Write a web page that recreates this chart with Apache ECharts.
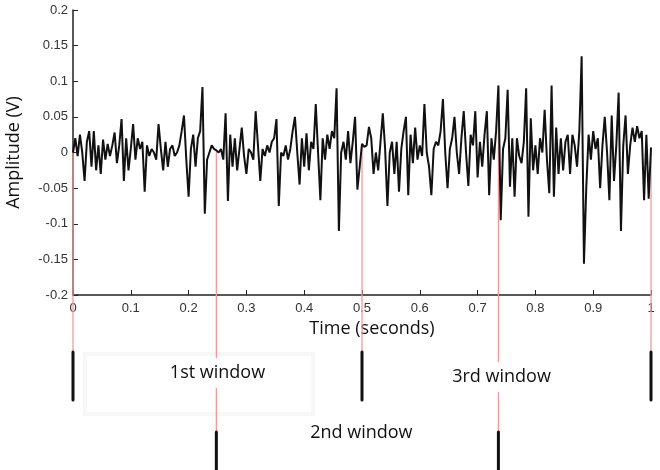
<!DOCTYPE html>
<html>
<head>
<meta charset="utf-8">
<script src="https://cdn.jsdelivr.net/npm/echarts@6/dist/echarts.min.js"></script>
<style>
  html, body { margin: 0; padding: 0; background: #fff; }
  #main { width: 660px; height: 470px; }
</style>
</head>
<body>
<div id="main"></div>
<script>
// signal, one sample every 4 ms
const sampleStep = 0.004;
const amplitude = [
  0.0, 0.02, -0.005, 0.025, 0.0, -0.04, 0.015, 0.03, -0.02, 0.03,
  -0.025, 0.01, -0.03, 0.018, -0.01, 0.012, -0.005, 0.01, 0.028, -0.015,
  0.01, 0.047, -0.04, 0.02, -0.025, 0.005, 0.04, -0.01, 0.02, 0.005,
  0.015, -0.055, 0.01, -0.005, 0.005, 0.0, -0.01, 0.04, 0.005, -0.025,
  0.015, -0.02, 0.005, 0.01, -0.005, 0.0, 0.01, 0.03, 0.052, -0.01,
  -0.062, 0.005, 0.025, -0.02, 0.02, 0.03, 0.092, -0.086, -0.01, 0.0,
  0.01, 0.005, 0.003, 0.0, 0.005, -0.01, 0.055, -0.068, 0.025, -0.02,
  0.02, -0.025, 0.005, 0.035, -0.005, -0.03, 0.005, 0.0, -0.01, 0.058,
  0.01, -0.04, 0.005, -0.005, 0.01, 0.0, 0.015, 0.02, 0.047, -0.075,
  0.0, -0.005, 0.01, -0.01, 0.005, 0.03, 0.05, 0.0, -0.045, 0.02,
  -0.02, 0.027, -0.025, 0.015, 0.005, 0.068, 0.0, -0.067, 0.02, -0.01,
  0.025, 0.005, 0.03, 0.02, 0.09, -0.11, 0.0, 0.015, -0.01, 0.03,
  -0.015, 0.015, 0.05, -0.052, -0.02, 0.012, 0.008, 0.01, 0.036, 0.02,
  -0.03, 0.0, -0.025, 0.015, 0.055, 0.005, -0.075, 0.0, 0.015, -0.03,
  0.015, -0.055, 0.005, 0.03, 0.05, -0.06, 0.025, -0.015, 0.035, -0.01,
  0.01, -0.005, 0.068, 0.0, -0.02, -0.06, 0.005, 0.015, 0.01, 0.03,
  0.075, 0.0, -0.05, 0.005, 0.02, 0.05, 0.0, -0.03, 0.02, 0.058,
  0.0, -0.047, 0.025, 0.01, 0.058, -0.035, 0.015, -0.02, 0.025, 0.058,
  -0.06, 0.02, -0.01, 0.03, 0.094, -0.095, 0.005, 0.02, 0.088, -0.048,
  0.02, -0.062, 0.02, -0.005, -0.015, 0.015, 0.09, -0.09, 0.048, -0.025,
  0.01, -0.03, 0.02, 0.0, 0.06, -0.01, -0.057, 0.094, -0.062, 0.035,
  -0.03, 0.02, -0.025, 0.015, 0.025, -0.03, 0.025, 0.01, -0.02, 0.03,
  0.135, -0.156, -0.05, 0.025, -0.01, 0.03, 0.005, 0.02, -0.05, 0.01,
  0.05, 0.0, -0.067, 0.052, -0.04, 0.01, 0.084, -0.11, 0.01, 0.052,
  -0.03, 0.01, 0.035, 0.015, 0.037, 0.02, 0.03, -0.067, 0.025, -0.065,
  0.007
];

// window boundaries and which row of markers each one sits on
const edgeTimes = [0, 0.248, 0.5, 0.736, 1];
const edgeRows = [1, 2, 1, 2, 1];
const windowNames = ['1st window', '2nd window', '3rd window'];

const signal = amplitude.map((v, i) => [+(i * sampleStep).toFixed(3), v]);

const chart = echarts.init(document.getElementById('main'));

const axisFont = { color: '#333', fontSize: 13, fontFamily: 'Liberation Sans, Arial, sans-serif' };
const titleFont = { color: '#111', fontSize: 18, fontFamily: 'Open Sans, Noto Sans, sans-serif' };

chart.setOption({
  animation: false,
  backgroundColor: '#fff',
  grid: { left: 73, right: 9, top: 10, bottom: 175, outerBoundsMode: 'none' },
  xAxis: {
    type: 'value',
    min: 0, max: 1, interval: 0.1,
    name: 'Time (seconds)',
    nameLocation: 'middle',
    nameGap: 18,
    nameTextStyle: Object.assign({ padding: [0, 0, 0, 20] }, titleFont),
    axisLine: { onZero: false, lineStyle: { color: '#222', width: 1.5 } },
    axisTick: { inside: true, length: 5, lineStyle: { color: '#222' } },
    axisLabel: Object.assign({ margin: 7 }, axisFont),
    splitLine: { show: false }
  },
  yAxis: {
    type: 'value',
    min: -0.2, max: 0.2, interval: 0.05,
    name: 'Amplitude (V)',
    nameLocation: 'middle',
    nameGap: 50,
    nameTextStyle: titleFont,
    axisLine: { show: true, onZero: false, lineStyle: { color: '#222', width: 1.5 } },
    axisTick: { show: true, inside: true, length: 5, lineStyle: { color: '#222' } },
    axisLabel: Object.assign({ margin: 5 }, axisFont),
    splitLine: { show: false }
  },
  series: [{
    type: 'line',
    data: signal,
    showSymbol: false,
    symbol: 'none',
    lineStyle: { color: '#111', width: 2 },
    z: 3
  }]
});

// red guide lines, black markers and window labels below the axis
const rowTop = { 1: 352, 2: 432 };
const rowBottom = { 1: 400, 2: 470 };
const labelY = [373, 433, 377];
const labelShift = [0, 4, -5];
const graphics = [];

graphics.push({
  type: 'rect', z: 1,
  shape: { x: 85, y: 354, width: 228, height: 60 },
  style: { fill: 'none', stroke: '#f7f7f7', lineWidth: 4 }
});

edgeTimes.forEach((t, k) => {
  const idx = Math.round(t / sampleStep);
  const p = chart.convertToPixel({ gridIndex: 0 }, [t, amplitude[idx]]);
  const row = edgeRows[k];
  graphics.push({
    type: 'line', z: 2,
    shape: { x1: p[0], y1: p[1], x2: p[0], y2: rowTop[row] },
    style: { stroke: '#f29a9a', lineWidth: 1.3 }
  });
  graphics.push({
    type: 'line', z: 4,
    shape: { x1: p[0], y1: rowTop[row], x2: p[0], y2: rowBottom[row] },
    style: { stroke: '#111', lineWidth: 3, lineCap: 'round' }
  });
});

windowNames.forEach((name, k) => {
  const a = chart.convertToPixel({ gridIndex: 0 }, [edgeTimes[k], 0]);
  const b = chart.convertToPixel({ gridIndex: 0 }, [edgeTimes[k + 2], 0]);
  graphics.push({
    type: 'text', z: 5,
    x: (a[0] + b[0]) / 2 + labelShift[k], y: labelY[k],
    style: {
      text: name,
      fill: '#111',
      font: '18px "Open Sans", "Noto Sans", sans-serif',
      align: 'center', verticalAlign: 'middle',
      backgroundColor: '#fff', padding: [6, 2]
    }
  });
});

chart.setOption({ graphic: graphics });
</script>
</body>
</html>
